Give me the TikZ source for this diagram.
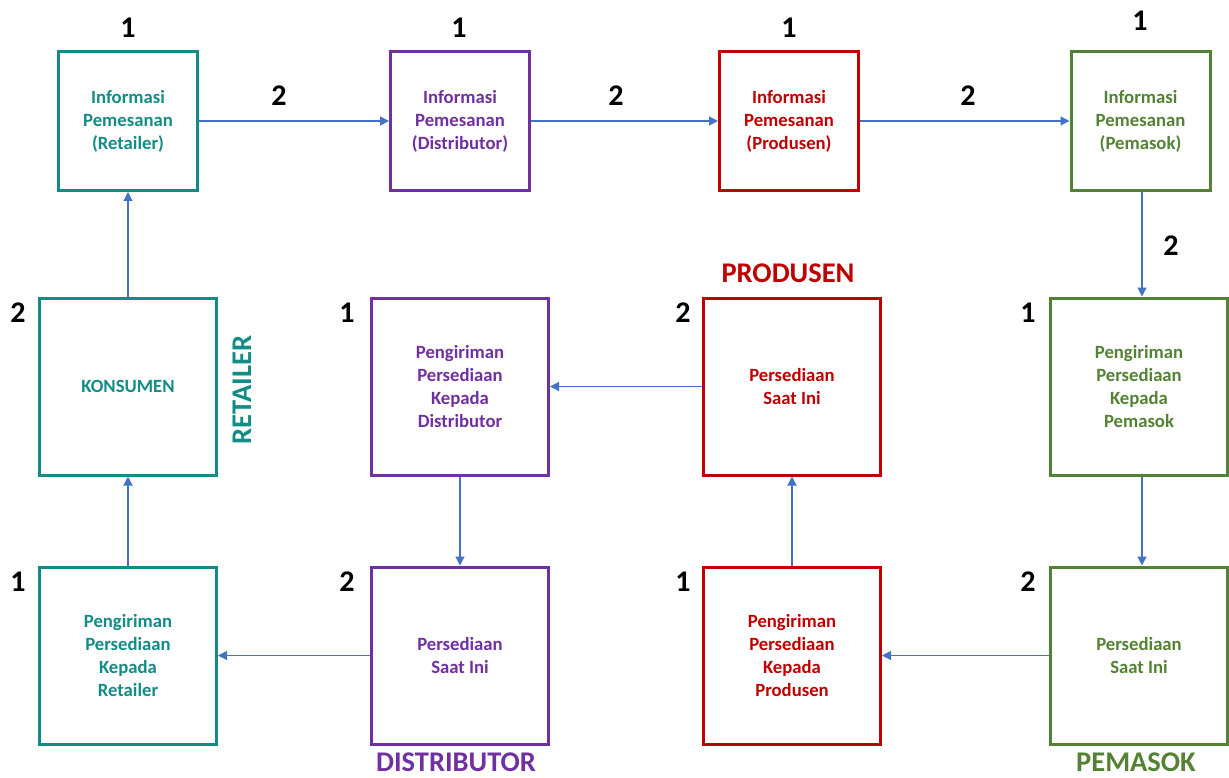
\documentclass[tikz,border=0pt]{standalone}
\usepackage{fontspec}
\setmainfont{Carlito}
\usetikzlibrary{arrows.meta}
\definecolor{cteal}{HTML}{138C86}
\definecolor{cpurple}{HTML}{7030A0}
\definecolor{cred}{HTML}{C00000}
\definecolor{cgreen}{HTML}{548235}
\definecolor{cblue}{HTML}{4472C4}
\tikzset{
  box/.style={draw, line width=3pt, inner sep=0pt, align=center, font=\bfseries\fontsize{18.7}{23}\selectfont},
  infobox/.style={box, minimum width=139, minimum height=139},
  bigbox/.style={box, minimum width=177, minimum height=177},
  num/.style={font=\bfseries\fontsize{30}{36}\selectfont, inner sep=0pt},
  grp/.style={font=\bfseries\fontsize{28.5}{34}\selectfont, inner sep=0pt},
  arr/.style={draw=cblue, line width=1.2pt, -{Triangle[length=9pt,width=9pt]}}
}
\begin{document}
\begin{tikzpicture}[x=1pt,y=-1pt]
\useasboundingbox (0,0) rectangle (1229,778);
% top row
\node[infobox, draw=cteal, text=cteal] (rinfo) at (128,121) {Informasi\\Pemesanan\\(Retailer)};
\node[infobox, draw=cpurple, text=cpurple] (dinfo) at (460,121) {Informasi\\Pemesanan\\(Distributor)};
\node[infobox, draw=cred, text=cred] (pinfo) at (789,121) {Informasi\\Pemesanan\\(Produsen)};
\node[infobox, draw=cgreen, text=cgreen] (sinfo) at (1140.5,121) {Informasi\\Pemesanan\\(Pemasok)};
% middle row
\node[bigbox, draw=cteal, text=cteal] (kons) at (128,386.5) {KONSUMEN};
\node[bigbox, draw=cpurple, text=cpurple] (dkirim) at (460,386.5) {Pengiriman\\Persediaan\\Kepada\\Distributor};
\node[bigbox, draw=cred, text=cred] (pstok) at (792,386.5) {Persediaan\\Saat Ini};
\node[bigbox, draw=cgreen, text=cgreen] (skirim) at (1139,386.5) {Pengiriman\\Persediaan\\Kepada\\Pemasok};
% bottom row
\node[bigbox, draw=cteal, text=cteal] (rkirim) at (128,655.5) {Pengiriman\\Persediaan\\Kepada\\Retailer};
\node[bigbox, draw=cpurple, text=cpurple] (dstok) at (460,655.5) {Persediaan\\Saat Ini};
\node[bigbox, draw=cred, text=cred] (pkirim) at (792,655.5) {Pengiriman\\Persediaan\\Kepada\\Produsen};
\node[bigbox, draw=cgreen, text=cgreen] (sstok) at (1139,655.5) {Persediaan\\Saat Ini};
% connectors
\draw[arr] (rinfo.east) -- (dinfo.west);
\draw[arr] (dinfo.east) -- (pinfo.west);
\draw[arr] (pinfo.east) -- (sinfo.west);
\draw[arr] ([xshift=1.5pt]sinfo.south) -- ([xshift=1.5pt]sinfo.south |- skirim.north);
\draw[arr] ([xshift=3pt]skirim.south) -- ([xshift=3pt]skirim.south |- sstok.north);
\draw[arr] (sstok.west) -- (pkirim.east);
\draw[arr] (pkirim.north) -- (pstok.south);
\draw[arr] (pstok.west) -- (dkirim.east);
\draw[arr] (dkirim.south) -- (dstok.north);
\draw[arr] (dstok.west) -- (rkirim.east);
\draw[arr] (rkirim.north) -- (kons.south);
\draw[arr] (kons.north) -- (rinfo.south);
% numbers
\node[num] (n1) at (128,28) {1};
\node[num] (n2) at (459,28) {1};
\node[num] (n3) at (789,28) {1};
\node[num] (n4) at (1140,21) {1};
\node[num] (n5) at (279,96) {2};
\node[num] (n6) at (616,96) {2};
\node[num] (n7) at (968,96) {2};
\node[num] (n8) at (1171,246) {2};
\node[num] (n9) at (18,313) {2};
\node[num] (n10) at (347,313) {1};
\node[num] (n11) at (683,313) {2};
\node[num] (n12) at (1028,313) {1};
\node[num] (n13) at (18,582) {1};
\node[num] (n14) at (347,582) {2};
\node[num] (n15) at (683,582) {1};
\node[num] (n16) at (1028,582) {2};
% group labels
\node[grp, text=cteal, rotate=90] (gret) at (242,390) {RETAILER};
\node[grp, text=cred] (gpro) at (788,273) {PRODUSEN};
\node[grp, text=cpurple] (gdis) at (456,762) {DISTRIBUTOR};
\node[grp, text=cgreen] (gpem) at (1136,762) {PEMASOK};
\end{tikzpicture}
\end{document}
